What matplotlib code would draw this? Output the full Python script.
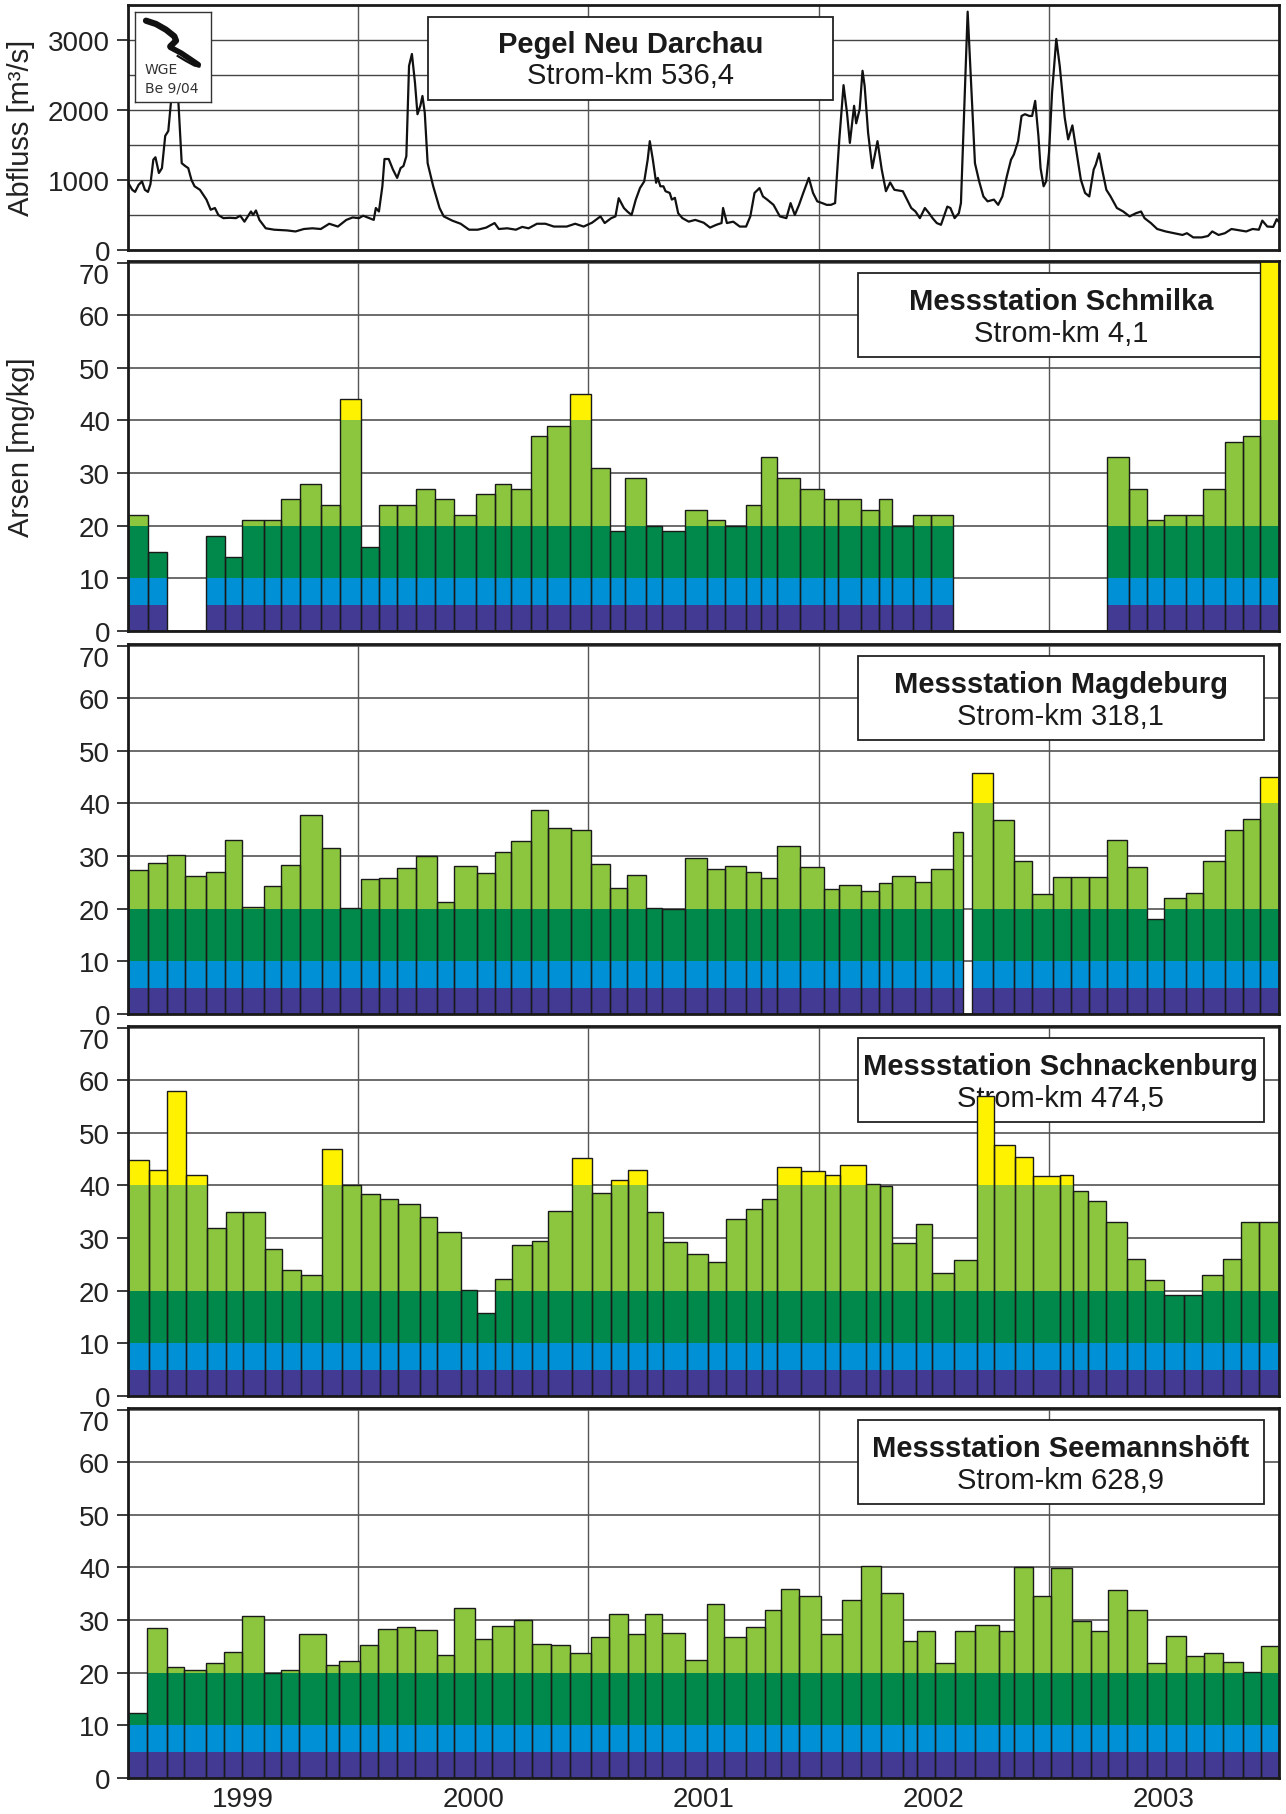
import matplotlib
matplotlib.use("Agg")
import matplotlib.pyplot as plt
import numpy as np
from matplotlib.patches import Rectangle

plt.rcParams["font.family"] = ["Liberation Sans", "DejaVu Sans"]
plt.rcParams["font.size"] = 20

W, H = 1286, 1815

# Pegel Neu Darchau, Abfluss [m3/s]; time in months since 1 Jan 1999
neu_darchau = [
    (0.00, 965), (0.22, 860), (0.37, 830), (0.55, 930), (0.73, 980), (0.88, 860),
    (1.04, 830), (1.17, 940), (1.32, 1290), (1.43, 1325), (1.61, 1100), (1.77, 1170),
    (1.94, 1630), (2.10, 1700), (2.27, 2200), (2.42, 2700), (2.62, 2150), (2.80, 1240),
    (2.98, 1200), (3.14, 1170), (3.31, 1000), (3.47, 910), (3.75, 860), (4.09, 720),
    (4.31, 575), (4.53, 600), (4.71, 500), (4.97, 455), (5.30, 460), (5.63, 455),
    (5.85, 490), (6.07, 405), (6.41, 550), (6.52, 500), (6.67, 565), (6.85, 430),
    (7.18, 310), (7.62, 290), (8.28, 280), (8.73, 265), (9.17, 300), (9.61, 310),
    (10.05, 300), (10.49, 375), (10.94, 335), (11.38, 430), (11.71, 465), (12.04, 455),
    (12.26, 490), (12.59, 455), (12.81, 430), (12.92, 600), (13.08, 550), (13.26, 910),
    (13.37, 1300), (13.59, 1300), (13.81, 1150), (14.03, 1030), (14.21, 1170), (14.36, 1200),
    (14.51, 1340), (14.65, 2630), (14.80, 2800), (14.96, 2390), (15.09, 1940), (15.24, 2060),
    (15.35, 2200), (15.47, 1960), (15.62, 1240), (15.91, 910), (16.24, 600), (16.46, 480),
    (16.90, 420), (17.34, 375), (17.78, 290), (18.23, 290), (18.67, 320), (19.11, 385),
    (19.33, 300), (19.77, 310), (20.22, 290), (20.55, 330), (20.88, 310), (21.32, 375),
    (21.76, 375), (22.20, 335), (22.87, 335), (23.31, 375), (23.75, 335), (24.19, 390),
    (24.63, 480), (24.85, 385), (25.19, 455), (25.41, 480), (25.58, 740), (25.85, 600),
    (26.03, 550), (26.25, 500), (26.47, 720), (26.69, 885), (26.91, 980), (27.09, 1290),
    (27.20, 1555), (27.36, 1290), (27.53, 960), (27.62, 1030), (27.75, 910), (27.91, 910),
    (28.02, 840), (28.24, 815), (28.35, 720), (28.51, 745), (28.68, 525), (28.90, 455),
    (29.23, 405), (29.57, 430), (30.01, 390), (30.34, 320), (30.67, 360), (30.94, 385),
    (31.02, 600), (31.22, 385), (31.55, 405), (31.89, 335), (32.22, 335), (32.44, 480),
    (32.66, 815), (32.92, 885), (33.10, 765), (33.32, 720), (33.65, 645), (33.98, 480),
    (34.32, 455), (34.54, 670), (34.76, 500), (34.98, 645), (35.20, 815), (35.49, 1030),
    (35.71, 815), (35.93, 695), (36.19, 670), (36.42, 645), (36.64, 645), (36.86, 670),
    (37.08, 1580), (37.30, 2355), (37.48, 1960), (37.63, 1530), (37.85, 2060), (37.96, 1810),
    (38.14, 2010), (38.29, 2560), (38.40, 2345), (38.58, 1675), (38.80, 1170), (39.07, 1555),
    (39.29, 1150), (39.51, 840), (39.73, 965), (39.95, 860), (40.39, 840), (40.61, 720),
    (40.83, 600), (41.05, 550), (41.28, 455), (41.54, 600), (41.76, 525), (41.94, 455),
    (42.16, 385), (42.38, 360), (42.71, 620), (42.87, 600), (43.09, 455), (43.31, 525),
    (43.42, 670), (43.60, 2060), (43.77, 3405), (43.93, 2490), (44.15, 1240), (44.37, 980),
    (44.59, 765), (44.81, 695), (45.14, 720), (45.36, 645), (45.58, 765), (45.81, 1050),
    (46.03, 1290), (46.18, 1365), (46.40, 1555), (46.58, 1915), (46.76, 1940), (46.98, 1915),
    (47.13, 1915), (47.29, 2130), (47.46, 1625), (47.57, 1170), (47.73, 910), (47.86, 980),
    (48.01, 1390), (48.17, 2250), (48.39, 3015), (48.57, 2630), (48.83, 1890), (49.01, 1580),
    (49.23, 1780), (49.45, 1390), (49.67, 1005), (49.89, 815), (50.11, 765), (50.34, 1150),
    (50.45, 1220), (50.62, 1380), (50.78, 1150), (51.00, 860), (51.22, 765), (51.55, 600),
    (51.88, 550), (52.21, 480), (52.54, 525), (52.81, 550), (52.99, 455), (53.32, 385),
    (53.65, 300), (54.09, 265), (54.53, 240), (54.97, 215), (55.20, 240), (55.53, 180),
    (55.97, 180), (56.30, 200), (56.52, 265), (56.85, 215), (57.18, 240), (57.52, 300),
    (57.85, 285), (58.29, 265), (58.62, 300), (58.95, 290), (59.13, 420), (59.39, 335),
    (59.70, 330), (59.88, 440), (60.0, 400),
]

years = ["1999", "2000", "2001", "2002", "2003"]

# Arsen classes [mg/kg]
band_lo = [0, 5, 10, 20, 40]
band_hi = [5, 10, 20, 40, 1000]
band_col = ["#433a94", "#0090d5", "#00894a", "#8cc63e", "#fff200"]

# sampling periods (month edges since Jan 1999) and Arsen values [mg/kg]
schmilka_edges = [
    [0, 1.04, 2.01],
    [4.09, 5.04, 5.94, 7.11, 7.97, 8.95, 10.05, 11.07, 12.13, 13.08, 14.03, 15.02, 15.99,
     17.01, 18.16, 19.11, 19.99, 20.99, 21.83, 23.04, 24.15, 25.12, 25.92, 27.02, 27.86,
     29.06, 30.16, 31.11, 32.22, 32.99, 33.81, 35.02, 36.3, 37.01, 38.23, 39.15, 39.82,
     40.94, 41.87, 43.0],
    [51.02, 52.17, 53.1, 54.02, 55.15, 56.03, 57.21, 58.11, 59.02, 60.0],
]
schmilka_vals = [
    [22, 15],
    [18, 14, 21, 21, 25, 28, 24, 44, 16, 24, 24, 27, 25, 22, 26, 28, 27, 37, 39, 45,
     31, 19, 29, 20, 19, 23, 21, 20, 24, 33, 29, 27, 25, 25, 23, 25, 20, 22, 22],
    [33, 27, 21, 22, 22, 27, 36, 37, 72],
]

magdeburg_edges = [
    [0, 1.04, 2.03, 2.98, 4.09, 5.04, 5.94, 7.11, 7.98, 8.97, 10.1, 11.07, 12.15, 13.08,
     14.03, 15.02, 16.13, 17.01, 18.18, 19.11, 19.99, 20.99, 21.87, 23.09, 24.15, 25.12,
     26.0, 27.02, 27.86, 29.06, 30.16, 31.11, 32.22, 32.99, 33.81, 35.05, 36.3, 37.08,
     38.23, 39.15, 39.82, 41.01, 41.87, 43.0, 43.55],
    [43.99, 45.08, 46.2, 47.15, 48.21, 49.14, 50.11, 51.02, 52.1, 53.1, 54.02, 55.15,
     56.03, 57.21, 58.13, 59.02, 60.0],
]
magdeburg_vals = [
    [27.3, 28.7, 30.2, 26.2, 27.0, 33.1, 20.4, 24.3, 28.3, 37.9, 31.5, 20.2, 25.6, 25.9,
     27.8, 30.0, 21.3, 28.1, 26.8, 30.7, 32.9, 38.7, 35.3, 35.0, 28.5, 24.0, 26.5, 20.1,
     19.9, 29.7, 27.6, 28.2, 26.9, 25.9, 31.9, 27.9, 23.8, 24.6, 23.3, 24.9, 26.2, 25.1,
     27.6, 34.6],
    [45.8, 36.8, 29.1, 22.8, 26.1, 26.1, 26.1, 33.1, 28.0, 18.0, 22.1, 23.0, 29.1, 35.0,
     37.0, 45.0],
]

schnackenburg_edges = [
    [0, 1.1, 2.03, 3.0, 4.11, 5.1, 5.99, 7.16, 8.02, 9.01, 10.1, 11.13, 12.17, 13.15,
     14.05, 15.2, 16.13, 17.36, 18.2, 19.15, 20.02, 21.06, 21.87, 23.13, 24.21, 25.19,
     26.05, 27.07, 27.91, 29.12, 30.21, 31.16, 32.24, 33.03, 33.83, 35.09, 36.35, 37.12,
     38.49, 39.2, 39.84, 41.06, 41.89, 43.04, 44.26, 45.12, 46.25, 47.18, 48.59, 49.27,
     50.05, 50.97, 52.1, 52.99, 54.02, 55.04, 55.97, 57.07, 58.0, 58.95, 60.0],
]
schnackenburg_vals = [
    [44.9, 43.0, 58.0, 42.0, 32.0, 35.0, 35.0, 28.0, 24.0, 23.0, 47.0, 40.0, 38.4, 37.4,
     36.5, 34.1, 31.2, 20.1, 15.8, 22.3, 28.6, 29.5, 35.1, 45.3, 38.5, 41.1, 43.0, 35.0,
     29.2, 26.9, 25.4, 33.6, 35.5, 37.5, 43.5, 42.8, 42.0, 43.8, 40.3, 39.9, 29.0, 32.6,
     23.3, 25.9, 57.0, 47.6, 45.5, 41.8, 42.0, 39.0, 37.0, 33.1, 26.1, 22.0, 19.1, 19.1,
     23.0, 26.1, 33.1, 33.1],
]

seemannshoeft_edges = [
    [0, 0.99, 2.01, 2.92, 4.09, 4.99, 5.94, 7.09, 8.0, 8.93, 10.32, 11.0, 12.11, 13.03,
     14.03, 14.98, 16.13, 16.99, 18.07, 18.96, 20.1, 21.05, 22.05, 23.04, 24.15, 25.08,
     26.05, 26.95, 27.86, 29.01, 30.16, 31.07, 32.2, 33.21, 34.03, 35.0, 36.13, 37.23,
     38.2, 39.24, 40.39, 41.14, 42.09, 43.09, 44.15, 45.41, 46.18, 47.2, 48.13, 49.19,
     50.2, 51.11, 52.1, 53.14, 54.09, 55.15, 56.08, 57.07, 58.11, 59.06, 60.0],
]
seemannshoeft_vals = [
    [12.4, 28.5, 21.1, 20.5, 21.8, 24.0, 30.7, 19.9, 20.5, 27.4, 21.5, 22.2, 25.3, 28.4,
     28.7, 28.1, 23.4, 32.3, 26.5, 28.8, 30.0, 25.5, 25.3, 23.8, 26.8, 31.2, 27.3, 31.2,
     27.5, 22.4, 33.1, 26.7, 28.7, 31.9, 36.0, 34.5, 27.3, 33.8, 40.3, 35.2, 26.1, 28.0,
     21.8, 28.0, 29.1, 27.9, 40.1, 34.5, 39.9, 29.9, 28.0, 35.7, 32.0, 21.8, 26.9, 23.2,
     23.8, 22.0, 20.1, 25.0],
]

stations = [
    ("Messstation Schmilka", "Strom-km 4,1", schmilka_edges, schmilka_vals),
    ("Messstation Magdeburg", "Strom-km 318,1", magdeburg_edges, magdeburg_vals),
    ("Messstation Schnackenburg", "Strom-km 474,5", schnackenburg_edges, schnackenburg_vals),
    ("Messstation Seemannshöft", "Strom-km 628,9", seemannshoeft_edges, seemannshoeft_vals),
]

fig = plt.figure(figsize=(W / 100, H / 100), dpi=100)


def panel(top, bottom):
    return fig.add_axes([128 / W, 1 - bottom / H, (1279 - 128) / W, (bottom - top) / H])


def style(ax):
    ax.set_xlim(0, 60)
    for s in ax.spines.values():
        s.set_linewidth(2.0)
        s.set_color("#1a1a1a")
    ax.set_axisbelow(True)
    for m in [12, 24, 36, 48]:
        ax.axvline(m, color="#555555", lw=1.0, zorder=0.6)
    ax.set_xticks([6, 18, 30, 42, 54])
    ax.set_xticklabels([])
    ax.tick_params(axis="x", length=0, pad=6)
    ax.tick_params(axis="y", which="major", direction="out", length=8, width=1.2, pad=5,
                   colors="#1a1a1a", labelcolor="#222222")
    ax.tick_params(axis="y", which="minor", length=0)


def draw_bars(ax, edge_groups, val_groups):
    for e, v in zip(edge_groups, val_groups):
        e = np.asarray(e, float)
        v = np.asarray(v, float)
        left, width = e[:-1], np.diff(e)
        for lo, hi, c in zip(band_lo, band_hi, band_col):
            h = np.clip(v, lo, hi) - lo
            ax.bar(left, h, width=width, bottom=lo, align="edge", color=c, lw=0, zorder=2)
        ax.bar(left, v, width=width, align="edge", fill=False, edgecolor="#1a1a1a",
               lw=1.0, zorder=3)


def label_box(ax, x0, y0, w, h, title, sub, ty, sy):
    ax.add_patch(Rectangle((x0, y0), w, h, transform=ax.transAxes, fc="white",
                           ec="#222222", lw=1.3, zorder=1.5))
    ax.text(x0 + w / 2, ty, title, transform=ax.transAxes, ha="center", va="center",
            fontsize=21, fontweight="bold", color="#1a1a1a", zorder=1.6)
    ax.text(x0 + w / 2, sy, sub, transform=ax.transAxes, ha="center", va="center",
            fontsize=21, color="#1a1a1a", zorder=1.6)


# discharge panel
ax0 = panel(6, 251)
style(ax0)
q_month, q_value = np.array(neu_darchau).T
ax0.plot(q_month, q_value, color="#111111", lw=1.6, zorder=3)
ax0.set_ylim(0, 3500)
ax0.set_yticks([0, 1000, 2000, 3000])
ax0.set_yticks([500, 1500, 2500], minor=True)
ax0.grid(axis="y", which="both", color="#444444", lw=1.0)
label_box(ax0, 0.261, 0.612, 0.3515, 0.337, "Pegel Neu Darchau", "Strom-km 536,4",
          0.841, 0.714)

# logo
lg = fig.add_axes([135 / W, 1 - 103 / H, 76 / W, 90 / H])
lg.set_xlim(0, 76)
lg.set_ylim(0, 90)
lg.set_xticks([])
lg.set_yticks([])
lg.set_facecolor("white")
for s in lg.spines.values():
    s.set_linewidth(1.0)
    s.set_color("#333333")
lg.plot([11, 21, 31, 39.3, 41, 37.7, 35.3], [81.3, 78, 72.3, 65.7, 61.3, 58, 55.7],
        color="#111111", lw=4.5, solid_capstyle="round")
lg.plot([35.3, 46, 56, 63.3], [54.7, 49, 42.3, 37.3], color="#111111", lw=4.0,
        solid_capstyle="round")
lg.plot([42.7, 51, 59.3, 64.3], [46.0, 41.0, 36.5, 35.5], color="#111111", lw=1.6)
lg.text(10, 33, "WGE", fontsize=10, family="DejaVu Sans", color="#333333", va="center")
lg.text(10, 15, "Be 9/04", fontsize=10, family="DejaVu Sans", color="#333333", va="center")

# Arsen panels
tops = [262, 645, 1027, 1409]
axes = []
for top, (title, sub, edges, vals) in zip(tops, stations):
    ax = panel(top, top + 370)
    style(ax)
    draw_bars(ax, edges, vals)
    ax.set_ylim(0, 70.3)
    ax.set_yticks(range(0, 71, 10))
    # the top label sits just below its tick, as in the original
    ax.yaxis.get_major_ticks()[-1].label1.set_verticalalignment("top")
    ax.grid(axis="y", color="#444444", lw=1.1)
    label_box(ax, 0.634, 1 - 96 / 370, 0.353, 84 / 370, title, sub,
              1 - 40 / 370, 1 - 72 / 370)
    axes.append(ax)

axes[-1].set_xticklabels(years)
for t in axes[-1].get_xticklabels():
    t.set_color("#222222")

fig.text(21 / W, 1 - 128 / H, "Abfluss [m³/s]", rotation=90, ha="center", va="center",
         fontsize=21, color="#222222")
fig.text(21 / W, 1 - 447 / H, "Arsen [mg/kg]", rotation=90, ha="center", va="center",
         fontsize=21, color="#222222")

fig.savefig("out.png", dpi=100)
